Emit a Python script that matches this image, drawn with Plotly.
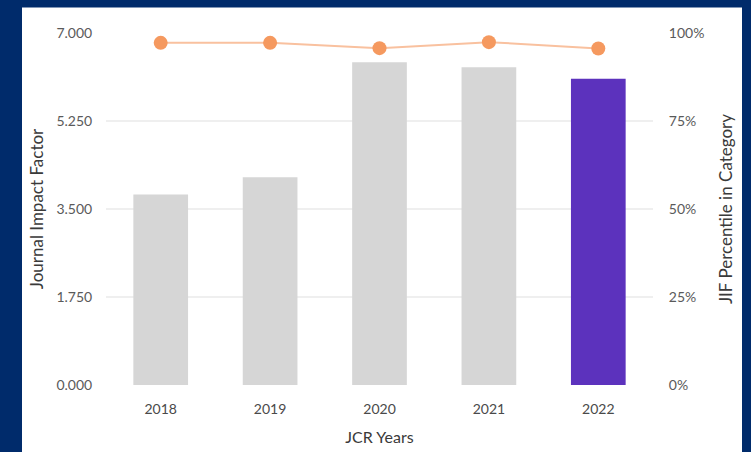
import plotly.graph_objects as go

years = ["2018", "2019", "2020", "2021", "2022"]
jif = [3.79, 4.13, 6.42, 6.32, 6.09]
percentile = [0.972, 0.972, 0.957, 0.974, 0.956]
bar_colors = ["#d6d6d6", "#d6d6d6", "#d6d6d6", "#d6d6d6", "#5c32bd"]

left_ticks = [0, 1.75, 3.5, 5.25, 7.0]
right_ticks = [0, 0.25, 0.5, 0.75, 1.0]

W, H = 751, 452
ml, mr, mt, mb = 106, 98, 32.5, 66.5
pw, ph = W - ml - mr, H - mt - mb

fig = go.Figure()
fig.add_trace(go.Bar(x=years, y=jif, marker=dict(color=bar_colors, line=dict(width=0)),
                     showlegend=False, hoverinfo="skip"))
fig.add_trace(go.Scatter(x=years, y=percentile, yaxis="y2", mode="lines+markers",
                         line=dict(color="#f9c19f", width=2),
                         marker=dict(color="#f5995f", size=14),
                         showlegend=False, hoverinfo="skip"))

font = "Lato"
fig.update_layout(
    width=W, height=H,
    margin=dict(l=ml, r=mr, t=mt, b=mb),
    paper_bgcolor="#002b6b",
    plot_bgcolor="white",
    bargap=0.5,
    font=dict(family=font, color="#555555", size=14),
    shapes=[dict(type="rect", xref="paper", yref="paper",
                 x0=(22 - ml) / pw, x1=(742 - ml) / pw,
                 y0=-(H - mt - ph + 10) / ph, y1=(mt + ph - 7) / ph,
                 fillcolor="white", line=dict(width=0), layer="below")],
    xaxis=dict(showgrid=False, zeroline=False, showline=False, automargin=False,
               ticks="outside", ticklen=11, tickcolor="rgba(0,0,0,0)",
               tickfont=dict(size=14, color="#4a4a4a"),
               title=dict(text="JCR Years", font=dict(size=16, color="#3a3a3a"), standoff=16)),
    yaxis=dict(range=[0, 7], tickvals=left_ticks, tickformat=".3f", automargin=False,
               showgrid=True, gridcolor="#efefef", gridwidth=1.5, zeroline=False,
               ticks="outside", ticklen=10, tickcolor="rgba(0,0,0,0)",
               tickfont=dict(size=14, color="#5a5a5a"),
               title=dict(text="Journal Impact Factor", font=dict(size=17, color="#3a3a3a"), standoff=8)),
    yaxis2=dict(range=[0, 1], tickvals=right_ticks, tickformat=".0%", overlaying="y", side="right",
                showgrid=False, zeroline=False, automargin=False,
                ticks="outside", ticklen=12, tickcolor="rgba(0,0,0,0)",
                tickfont=dict(size=14, color="#5a5a5a"),
                title=dict(text="JIF Percentile in Category", font=dict(size=17, color="#3a3a3a"), standoff=16)),
)

fig.write_html("out.html", config={"displayModeBar": False},
               post_script="document.body.style.margin='0';document.body.style.background='#002b6b';")
